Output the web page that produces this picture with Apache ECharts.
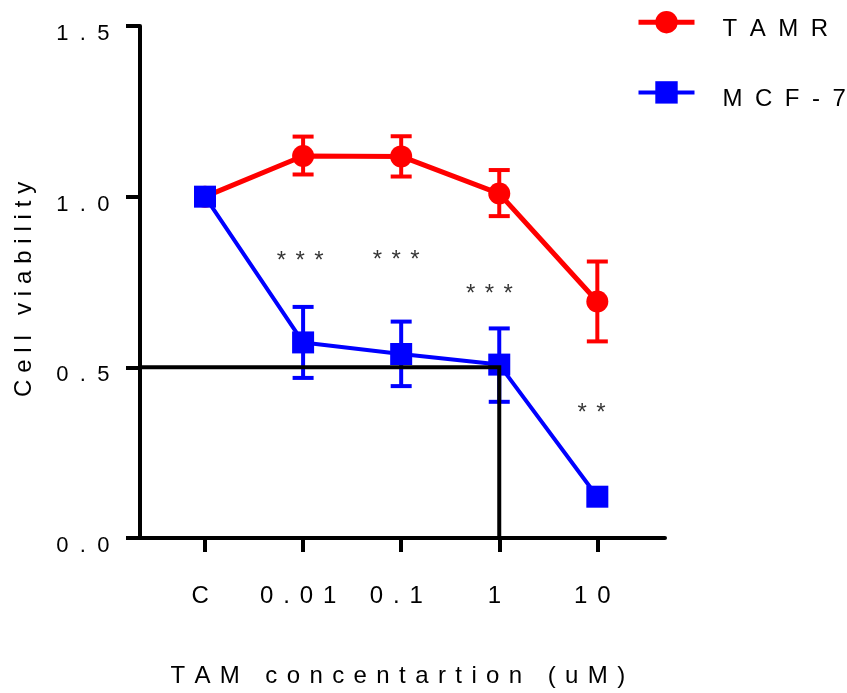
<!DOCTYPE html>
<html>
<head>
<meta charset="utf-8">
<script src="https://cdn.jsdelivr.net/npm/echarts@6/dist/echarts.min.js"></script>
<style>html,body{margin:0;padding:0;background:#fff;}#chart{width:847px;height:693px;}</style>
</head>
<body>
<div id="chart"></div>
<script>
// ---- data ----
var categories = ['C', '0.01', '0.1', '1', '10'];
var tamrMean  = [1.0, 1.119, 1.118, 1.009, 0.693];
var tamrLow   = [null, 1.065, 1.059, 0.943, 0.576];
var tamrHigh  = [null, 1.176, 1.177, 1.078, 0.810];
var mcfMean   = [1.0, 0.573, 0.539, 0.508, 0.121];
var mcfLow    = [null, 0.469, 0.445, 0.399, null];
var mcfHigh   = [null, 0.677, 0.634, 0.614, null];
var sigX      = [0.97, 1.95, 2.9, 3.94];
var sigY      = [0.834, 0.836, 0.736, 0.39];
var sigText   = ['***', '***', '***', '**'];
var refX      = [-0.663, 3, 3];
var refY      = [0.5, 0.5, 0];

var FONT = 'Liberation Sans, Arial, sans-serif';
// letter-spaced rich text: each character becomes a token with right padding
function rs(str, key, firstKey, lastKey) {
  var chars = String(str).split('');
  return chars.map(function (c, i) {
    var k = key;
    if (i === 0 && firstKey) k = firstKey;
    else if (i === chars.length - 1 && lastKey) k = lastKey;
    return '{' + k + '|' + c + '}';
  }).join('');
}
function tok(size, pad) { return { fontSize: size, color: '#000', fontFamily: FONT, padding: pad }; }

function pts(means) { return means.map(function (v, i) { return [i, v]; }); }
function errData(lo, hi) {
  var out = [];
  for (var i = 0; i < lo.length; i++) if (lo[i] != null) out.push([i, lo[i], hi[i]]);
  return out;
}
function errRender(color) {
  return function (params, api) {
    var x = api.value(0);
    var pLo = api.coord([x, api.value(1)]);
    var pHi = api.coord([x, api.value(2)]);
    var hw = 10.5;
    var st = { stroke: color, lineWidth: 4 };
    return { type: 'group', children: [
      { type: 'line', shape: { x1: pLo[0], y1: pLo[1], x2: pHi[0], y2: pHi[1] }, style: st },
      { type: 'line', shape: { x1: pHi[0] - hw, y1: pHi[1], x2: pHi[0] + hw, y2: pHi[1] }, style: st },
      { type: 'line', shape: { x1: pLo[0] - hw, y1: pLo[1], x2: pLo[0] + hw, y2: pLo[1] }, style: st }
    ]};
  };
}

var chart = echarts.init(document.getElementById('chart'), null, { renderer: 'canvas' });
chart.setOption({
  animation: false,
  textStyle: { fontFamily: FONT },
  grid: { left: 140, right: 182, top: 26, bottom: 146, containLabel: false },
  legend: {
    data: [
      { name: 'TAMR', lineStyle: { width: 5 } },
      { name: 'MCF-7', lineStyle: { width: 4 } }
    ],
    orient: 'vertical',
    left: 636, top: 11, padding: 0,
    itemWidth: 56, itemHeight: 28, itemGap: 40,
    formatter: function (n) { return rs(n, 'l', 'lf'); },
    textStyle: { fontSize: 24, color: '#000', fontFamily: FONT,
      rich: { l: tok(24, [14, 12.5, 0, 0]), lf: tok(24, [14, 12.5, 0, 23]) } }
  },
  xAxis: {
    type: 'value', min: -0.663, max: 4.69,
    splitLine: { show: false },
    axisLine: { onZero: false, lineStyle: { color: '#000', width: 4 } },
    axisTick: { show: true, customValues: [0, 1, 2, 3, 4], length: 14, lineStyle: { color: '#000', width: 4 } },
    axisLabel: { customValues: [0, 1, 2, 3, 4], margin: 46, fontSize: 24, color: '#000', fontFamily: FONT,
      formatter: function (v) { return rs(categories[Math.round(v)], 'x'); },
      rich: { x: tok(24, [0, 9.9, 0, 0]) } },
    name: rs('TAM concentartion (uM)', 'xn'),
    nameLocation: 'middle', nameGap: 126,
    nameTextStyle: { fontSize: 24, color: '#000', fontFamily: FONT, rich: { xn: tok(24, [0, 9.4, 0, 0]) } }
  },
  yAxis: {
    type: 'value', min: 0, max: 1.5, interval: 0.5,
    splitLine: { show: false },
    axisLine: { show: true, onZero: false, lineStyle: { color: '#000', width: 4 } },
    axisTick: { show: true, length: 14, lineStyle: { color: '#000', width: 4 } },
    axisLabel: { margin: 19, fontSize: 22, color: '#000', fontFamily: FONT,
      formatter: function (v) { return rs(v.toFixed(1), 'y'); },
      rich: { y: tok(22, [16, 11.4, 0, 0]) } },
    name: rs('Cell viability', 'yn', null, 'ynl'),
    nameLocation: 'middle', nameGap: 104, nameRotate: 90,
    nameTextStyle: { fontSize: 24, color: '#000', fontFamily: FONT,
      rich: { yn: tok(24, [0, 6.8, 0, 0]), ynl: tok(24, [0, 14.8, 0, 0]) } }
  },
  series: [
    { name: 'TAMR', type: 'line', data: pts(tamrMean), symbol: 'circle', symbolSize: 22,
      itemStyle: { color: '#ff0000' }, lineStyle: { color: '#ff0000', width: 5 }, z: 3 },
    { name: 'MCF-7', type: 'line', data: pts(mcfMean), symbol: 'rect', symbolSize: 22,
      itemStyle: { color: '#0000ff' }, lineStyle: { color: '#0000ff', width: 4 }, z: 3 },
    { name: 'TAMR err', type: 'custom', data: errData(tamrLow, tamrHigh), renderItem: errRender('#ff0000'), z: 2 },
    { name: 'MCF-7 err', type: 'custom', data: errData(mcfLow, mcfHigh), renderItem: errRender('#0000ff'), z: 2 },
    { name: 'ref', type: 'line', data: refX.map(function (x, i) { return [x, refY[i]]; }), symbol: 'none',
      lineStyle: { color: '#000', width: 4, join: 'miter' }, z: 4, silent: true },
    { name: 'sig', type: 'scatter', symbolSize: 0, silent: true, z: 5,
      data: sigX.map(function (x, i) { return [x, sigY[i], sigText[i]]; }),
      label: { show: true, position: 'inside', offset: [4.7, 8], fontSize: 24, color: '#000', fontFamily: FONT,
        formatter: function (p) { return rs(p.value[2], 's'); },
        rich: { s: tok(24, [0, 9.4, 0, 0]) } } }
  ]
});
</script>
</body>
</html>
